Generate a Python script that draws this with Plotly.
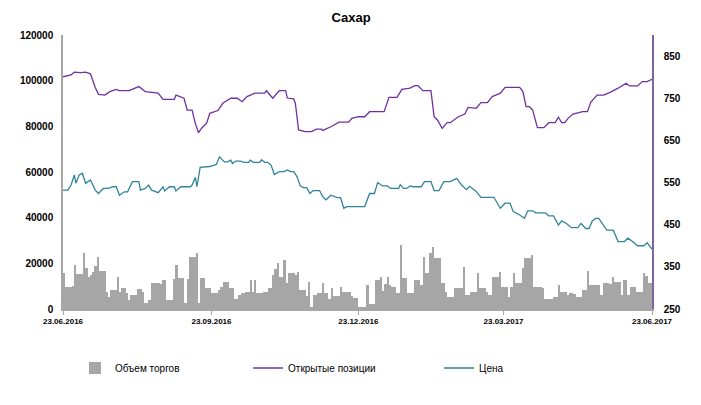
import pandas as pd
import plotly.graph_objects as go

# ---------------- data ----------------
tick_dates = ["2016-06-23", "2016-09-23", "2016-12-23", "2017-03-23", "2017-06-23"]
tick_labels = ["23.06.2016", "23.09.2016", "23.12.2016", "23.03.2017", "23.06.2017"]

# daily trading volume (business days 23.06.2016 .. 23.06.2017)
volume = [
    15600, 9800, 9800, 9800, 10000, 19300, 15300, 15300, 15300, 24400,
    17800, 14200, 15000, 16400, 19000, 22900, 16800, 16800, 16800, 7600,
    5400, 8300, 8300, 8300, 14200, 7600, 9000, 9000, 7000, 3900,
    6100, 6100, 6100, 8600, 8600, 7500, 2500, 2500, 3900, 11500,
    11500, 11500, 11500, 11000, 12700, 12700, 3900, 3900, 3900, 13000,
    19300, 13400, 13400, 13400, 2500, 13000, 22900, 22900, 22900, 24400,
    2500, 13400, 13400, 9000, 9000, 9000,
    6900, 6900, 6900, 8300, 9800, 12000, 12000, 12000, 9000, 9000,
    4200, 4200, 6000, 6900, 6900, 7600, 7600, 12700, 7600, 12700,
    6900, 6900, 6900, 7600, 7600, 9000, 9000, 14900, 17400, 20000,
    14200, 14200, 21500, 11200, 15600, 15600, 15600, 15000, 16400, 8300,
    8300, 8300, 5500, 12000, 1000, 6100, 6100, 6900, 6900, 11500,
    6900, 6900, 4200, 9000, 5700, 5700, 5700, 9800, 7600, 7600,
    7600, 7600, 5500, 4800, 4800,
    1000, 1000, 1000, 1000, 10500, 2000, 2000, 2000, 12700, 12700,
    13900, 7900, 10800, 13900, 10500, 9800, 9800, 6900, 6900, 28000,
    13400, 13400, 7200, 7200, 7200, 12700, 12700, 12700, 10500, 22900,
    15900, 15900, 24400, 27300, 22200, 22200, 22200, 11200, 11200, 7600,
    5100, 5100, 5100, 9000, 9000, 9000, 9000, 18500, 6100, 6100,
    7600, 7600, 7600, 15900, 9000, 9000, 9000, 7600, 6100, 6100,
    14200, 14200, 14200, 16400,
    9800, 9800, 9800, 5400, 9800, 15600, 11200, 11200, 11200, 17800,
    22200, 22200, 22200, 23700, 9800, 9800, 9800, 9800, 9000, 4200,
    4200, 4200, 4200, 5400, 5400, 10500, 7600, 7600, 7600, 6000,
    7200, 7200, 6500, 5400, 5400, 5400, 8300, 8300, 16800, 10500,
    10500, 10500, 10500, 10500, 6000, 11200, 11200, 11200, 11000, 13900,
    12000, 12000, 12000, 6000, 12700, 12700, 6000, 9800, 9800, 9800,
    7600, 7600, 7600, 15600, 14500, 11200, 11200,
]

# open interest (days since 23.06.2016, value)
oi_days = [0, 5, 7, 11, 14, 17, 20, 22, 26, 29, 33, 35, 41, 47, 51, 59, 62, 69, 70, 75,
           77, 80, 82, 84, 86, 89, 91, 96, 99, 104, 108, 111, 114, 119, 125, 126, 130, 134, 138, 139,
           143, 144, 146, 150, 154, 157, 160, 161, 166, 171, 177, 179, 183, 187, 190, 199, 202, 207, 210, 215,
           218, 220, 223, 228, 230, 232, 235, 238, 240, 245, 249, 251, 256, 259, 263, 266, 270, 271, 274, 283,
           285, 287, 289, 291, 294, 298, 301, 305, 307, 309, 311, 313, 316, 322, 325, 327, 331, 335, 339, 344,
           349, 351, 356, 359, 362, 365]
oi_vals = [101700, 102500, 103700, 103500, 103700, 103000, 97000, 94000, 93700, 95200, 96200, 95600, 95600, 97400, 95200, 94500, 91800, 91800, 93700, 92300,
           87100, 87100, 81300, 77200, 79300, 81400, 85700, 86900, 90100, 92300, 92300, 90800, 93000, 94500, 94500, 95600, 92300, 95600, 95600, 92400,
           92000, 90000, 78400, 77700, 77700, 78800, 78800, 78200, 79800, 81800, 81800, 83500, 84200, 84200, 86400, 86400, 92700, 92700, 96200, 96700,
           97800, 97800, 95600, 95600, 84200, 82800, 79100, 81600, 81600, 84200, 85400, 88300, 87900, 90400, 90400, 93000, 94200, 94500, 97100, 97100,
           95200, 88600, 88600, 87200, 79400, 79400, 81600, 81600, 84000, 81600, 81600, 83500, 85400, 86400, 86400, 90500, 93700, 93700, 94900, 96700,
           98900, 97700, 97700, 99600, 99600, 100600]

# price (days since 23.06.2016, value)
pr_days = [0, 3, 5, 7, 8, 10, 12, 14, 17, 20, 22, 25, 28, 31, 33, 35, 38, 40, 43, 47,
           48, 51, 53, 55, 59, 62, 63, 66, 69, 70, 73, 79, 80, 82, 83, 85, 91, 95, 97, 100,
           102, 104, 105, 107, 110, 112, 115, 116, 118, 122, 123, 125, 127, 129, 131, 134, 137, 139, 141, 143,
           145, 147, 149, 151, 153, 155, 159, 161, 163, 166, 170, 172, 174, 176, 185, 187, 190, 193, 195, 198,
           201, 203, 208, 209, 211, 213, 215, 217, 222, 224, 228, 230, 233, 236, 240, 244, 247, 250, 252, 256,
           259, 267, 271, 274, 277, 279, 283, 286, 288, 291, 293, 299, 301, 304, 307, 309, 312, 315, 319, 321,
           324, 326, 328, 330, 332, 334, 337, 341, 344, 348, 350, 353, 356, 360, 362, 365]
pr_vals = [532, 532, 544, 568, 548, 568, 572, 548, 556, 532, 524, 536, 536, 540, 540, 520, 528, 528, 552, 552,
           532, 536, 544, 532, 526, 540, 530, 540, 540, 530, 540, 540, 544, 562, 540, 586, 588, 593, 611, 599,
           599, 603, 595, 601, 601, 598, 598, 603, 598, 598, 604, 598, 598, 591, 569, 576, 576, 580, 576, 576,
           564, 542, 538, 538, 524, 531, 531, 516, 509, 520, 514, 514, 489, 493, 493, 493, 524, 524, 550, 542,
           542, 536, 536, 545, 536, 536, 542, 540, 540, 552, 552, 531, 531, 552, 552, 560, 544, 533, 541, 529,
           515, 515, 489, 501, 501, 481, 473, 465, 483, 483, 478, 478, 471, 471, 449, 459, 453, 443, 443, 453,
           441, 441, 459, 465, 465, 453, 437, 437, 410, 410, 418, 410, 400, 400, 407, 392]

# ---------------- figure ----------------
start = pd.Timestamp(tick_dates[0])
oi_dates = [start + pd.Timedelta(days=d) for d in oi_days]
pr_dates = [start + pd.Timedelta(days=d) for d in pr_days]

FONT = "Liberation Sans, Arial, sans-serif"

fig = go.Figure()
fig.add_trace(go.Bar(
    x=list(range(len(volume))), y=volume, name="Объем торгов",
    xaxis="x2", yaxis="y", marker=dict(color="#A6A6A6", line=dict(width=0)),
    legend="legend", showlegend=True,
))
fig.add_trace(go.Scatter(
    x=oi_dates, y=oi_vals, name="Открытые позиции", mode="lines",
    xaxis="x", yaxis="y", line=dict(color="#7030A0", width=1.3),
    legend="legend2", showlegend=True,
))
fig.add_trace(go.Scatter(
    x=pr_dates, y=pr_vals, name="Цена", mode="lines",
    xaxis="x", yaxis="y2", line=dict(color="#31849B", width=1.3),
    legend="legend3", showlegend=True,
))

# page body adds an 8px offset; margins compensate for it
PLOT_W = 592
leg_common = dict(orientation="h", yanchor="middle", y=-(368 - 309) / 274, xanchor="left",
                  font=dict(family=FONT, size=10, color="#000000"),
                  bgcolor="rgba(0,0,0,0)")

fig.update_layout(
    width=701, height=405,
    margin=dict(l=52, r=57, t=27, b=104),
    paper_bgcolor="white", plot_bgcolor="white",
    bargap=0,
    showlegend=True,
    font=dict(family=FONT, color="#000000"),
    title=dict(text="Сахар", x=343 / 701, xref="container", y=1 - 9 / 405, yref="container",
               xanchor="center", yanchor="middle",
               font=dict(family=FONT, size=13, weight="bold", color="#000000")),
    xaxis=dict(
        type="date", range=[tick_dates[0], tick_dates[-1]],
        tickvals=tick_dates, ticktext=tick_labels,
        showline=True, linecolor="#A6A6A6", linewidth=1.5,
        ticks="outside", ticklen=4, tickcolor="#A6A6A6",
        showgrid=False, zeroline=False,
        tickfont=dict(family=FONT, size=8, weight="bold"),
    ),
    xaxis2=dict(overlaying="x", range=[-0.5, len(volume) - 0.5], visible=False),
    yaxis=dict(
        range=[0, 120000], dtick=20000, tickformat="d",
        showline=True, linecolor="#A6A6A6", linewidth=1.5,
        showgrid=False, zeroline=False, ticks="",
        ticklabelstandoff=6,
        tickfont=dict(family=FONT, size=10, weight="bold"),
    ),
    yaxis2=dict(
        overlaying="y", side="right", range=[250, 900],
        tickvals=[250, 350, 450, 550, 650, 750, 850],
        showline=True, linecolor="#8064A2", linewidth=1.5,
        showgrid=False, zeroline=False, ticks="",
        ticklabelstandoff=8,
        tickfont=dict(family=FONT, size=10, weight="bold"),
    ),
    legend=dict(x=(72 - 60) / PLOT_W, **leg_common),
    legend2=dict(x=(246 - 60) / PLOT_W, **leg_common),
    legend3=dict(x=(438 - 60) / PLOT_W, **leg_common),
)

fig.write_html("out.html")
